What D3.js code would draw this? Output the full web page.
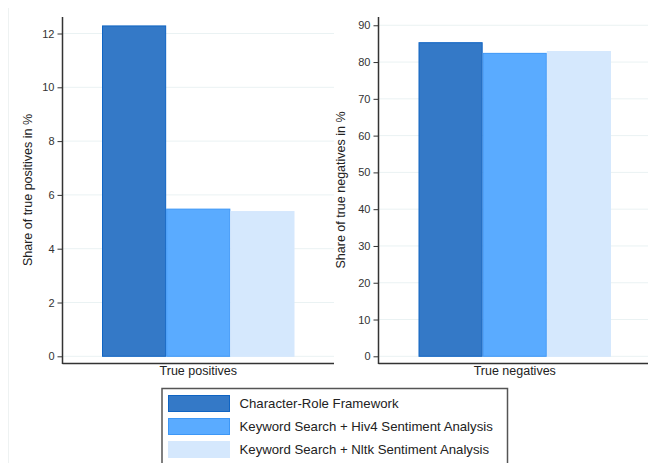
<!DOCTYPE html>
<html><head><meta charset="utf-8">
<script src="https://cdn.jsdelivr.net/npm/d3@7"></script>
<style>body{margin:0;background:#fff}svg{display:block;font-family:"Liberation Sans",Arial,sans-serif}</style>
</head><body><svg id="c" width="648" height="463"></svg>
<script>
const series = ["Character-Role Framework","Keyword Search + Hiv4 Sentiment Analysis","Keyword Search + Nltk Sentiment Analysis"];
const truePositives = [12.3, 5.49, 5.40];
const trueNegatives = [85.4, 82.5, 83.0];
const tpTicks = [0,2,4,6,8,10,12];
const tnTicks = [0,10,20,30,40,50,60,70,80,90];
const fills = ["#3479c7","#5aabff","#d5e8fd"];
const strokes = ["#0f64c3","#3d97f6","#d5e8fd"];

const svg = d3.select("#c");
// faint outer graph border
svg.append("line").attr("x1",8.5).attr("x2",8.5).attr("y1",8).attr("y2",463).attr("stroke","#eef2f2");

function panel(cfg){
  const g = svg.append("g");
  const y = d3.scaleLinear().domain(cfg.domain).range([356.3, 356.3 - (cfg.domain[1])*cfg.ppu]);
  const x = d3.scaleBand().domain(series).range([cfg.x0+cfg.pad, cfg.x1-cfg.pad]).padding(0);
  // grid
  g.selectAll("line.grid").data(cfg.ticks).enter().append("line")
    .attr("x1",cfg.x0).attr("x2",cfg.x1).attr("y1",d=>y(d)).attr("y2",d=>y(d))
    .attr("stroke","#eaf2f3").attr("stroke-width",1);
  // bars
  g.selectAll("rect.bar").data(cfg.values).enter().append("rect")
    .attr("x",(d,i)=>x(series[i])+0.5).attr("width",x.bandwidth()-1)
    .attr("y",d=>y(d)+0.5).attr("height",d=>y(0)-y(d)-0.5)
    .attr("fill",(d,i)=>fills[i]).attr("stroke",(d,i)=>strokes[i]).attr("stroke-width",1);
  // y axis
  const ax = d3.axisLeft(y).tickValues(cfg.ticks).tickSize(5).tickPadding(3);
  const ag = g.append("g").attr("transform",`translate(${cfg.x0},0)`).call(ax);
  ag.select(".domain").remove();
  ag.selectAll(".tick line").attr("stroke","#333");
  ag.selectAll(".tick text").attr("fill","#333").style("font-size","11px");
  g.append("line").attr("x1",cfg.x0).attr("x2",cfg.x0).attr("y1",17).attr("y2",364)
    .attr("stroke","#333").attr("stroke-width",1.5);
  g.append("line").attr("x1",cfg.x0).attr("x2",cfg.x1).attr("y1",363.5).attr("y2",363.5)
    .attr("stroke","#333").attr("stroke-width",1.5);
  g.append("text").attr("x",(cfg.x0+cfg.x1)/2).attr("y",375).attr("text-anchor","middle")
    .attr("fill","#222").style("font-size","12.5px").text(cfg.xlabel);
  g.append("text").attr("transform",`translate(${cfg.ytx},190) rotate(-90)`).attr("text-anchor","middle")
    .attr("dy","0.35em").attr("fill","#222").style("font-size","12.5px").text(cfg.ylabel);
}
panel({domain:[0,12],ppu:26.9,ticks:tpTicks,values:truePositives,x0:62.5,x1:334,pad:39.5,
  xlabel:"True positives",ylabel:"Share of true positives in %",ytx:28});
panel({domain:[0,90],ppu:3.678,ticks:tnTicks,values:trueNegatives,x0:378.5,x1:651,pad:40,
  xlabel:"True negatives",ylabel:"Share of true negatives in %",ytx:341});

// legend
const lg = svg.append("g");
lg.append("rect").attr("x",162).attr("y",388.5).attr("width",345.5).attr("height",80)
  .attr("fill","#fff").attr("stroke","#555").attr("stroke-width",1.5);
const rows = lg.selectAll("g.row").data(series).enter().append("g")
  .attr("transform",(d,i)=>`translate(0,${395+i*23})`);
rows.append("rect").attr("x",168.5).attr("y",0.5).attr("width",61).attr("height",16)
  .attr("fill",(d,i)=>fills[i]).attr("stroke",(d,i)=>strokes[i]);
rows.append("text").attr("x",239.5).attr("y",8.5).attr("dy","0.35em").attr("fill","#222")
  .style("font-size","13.2px").text(d=>d);
</script></body></html>
